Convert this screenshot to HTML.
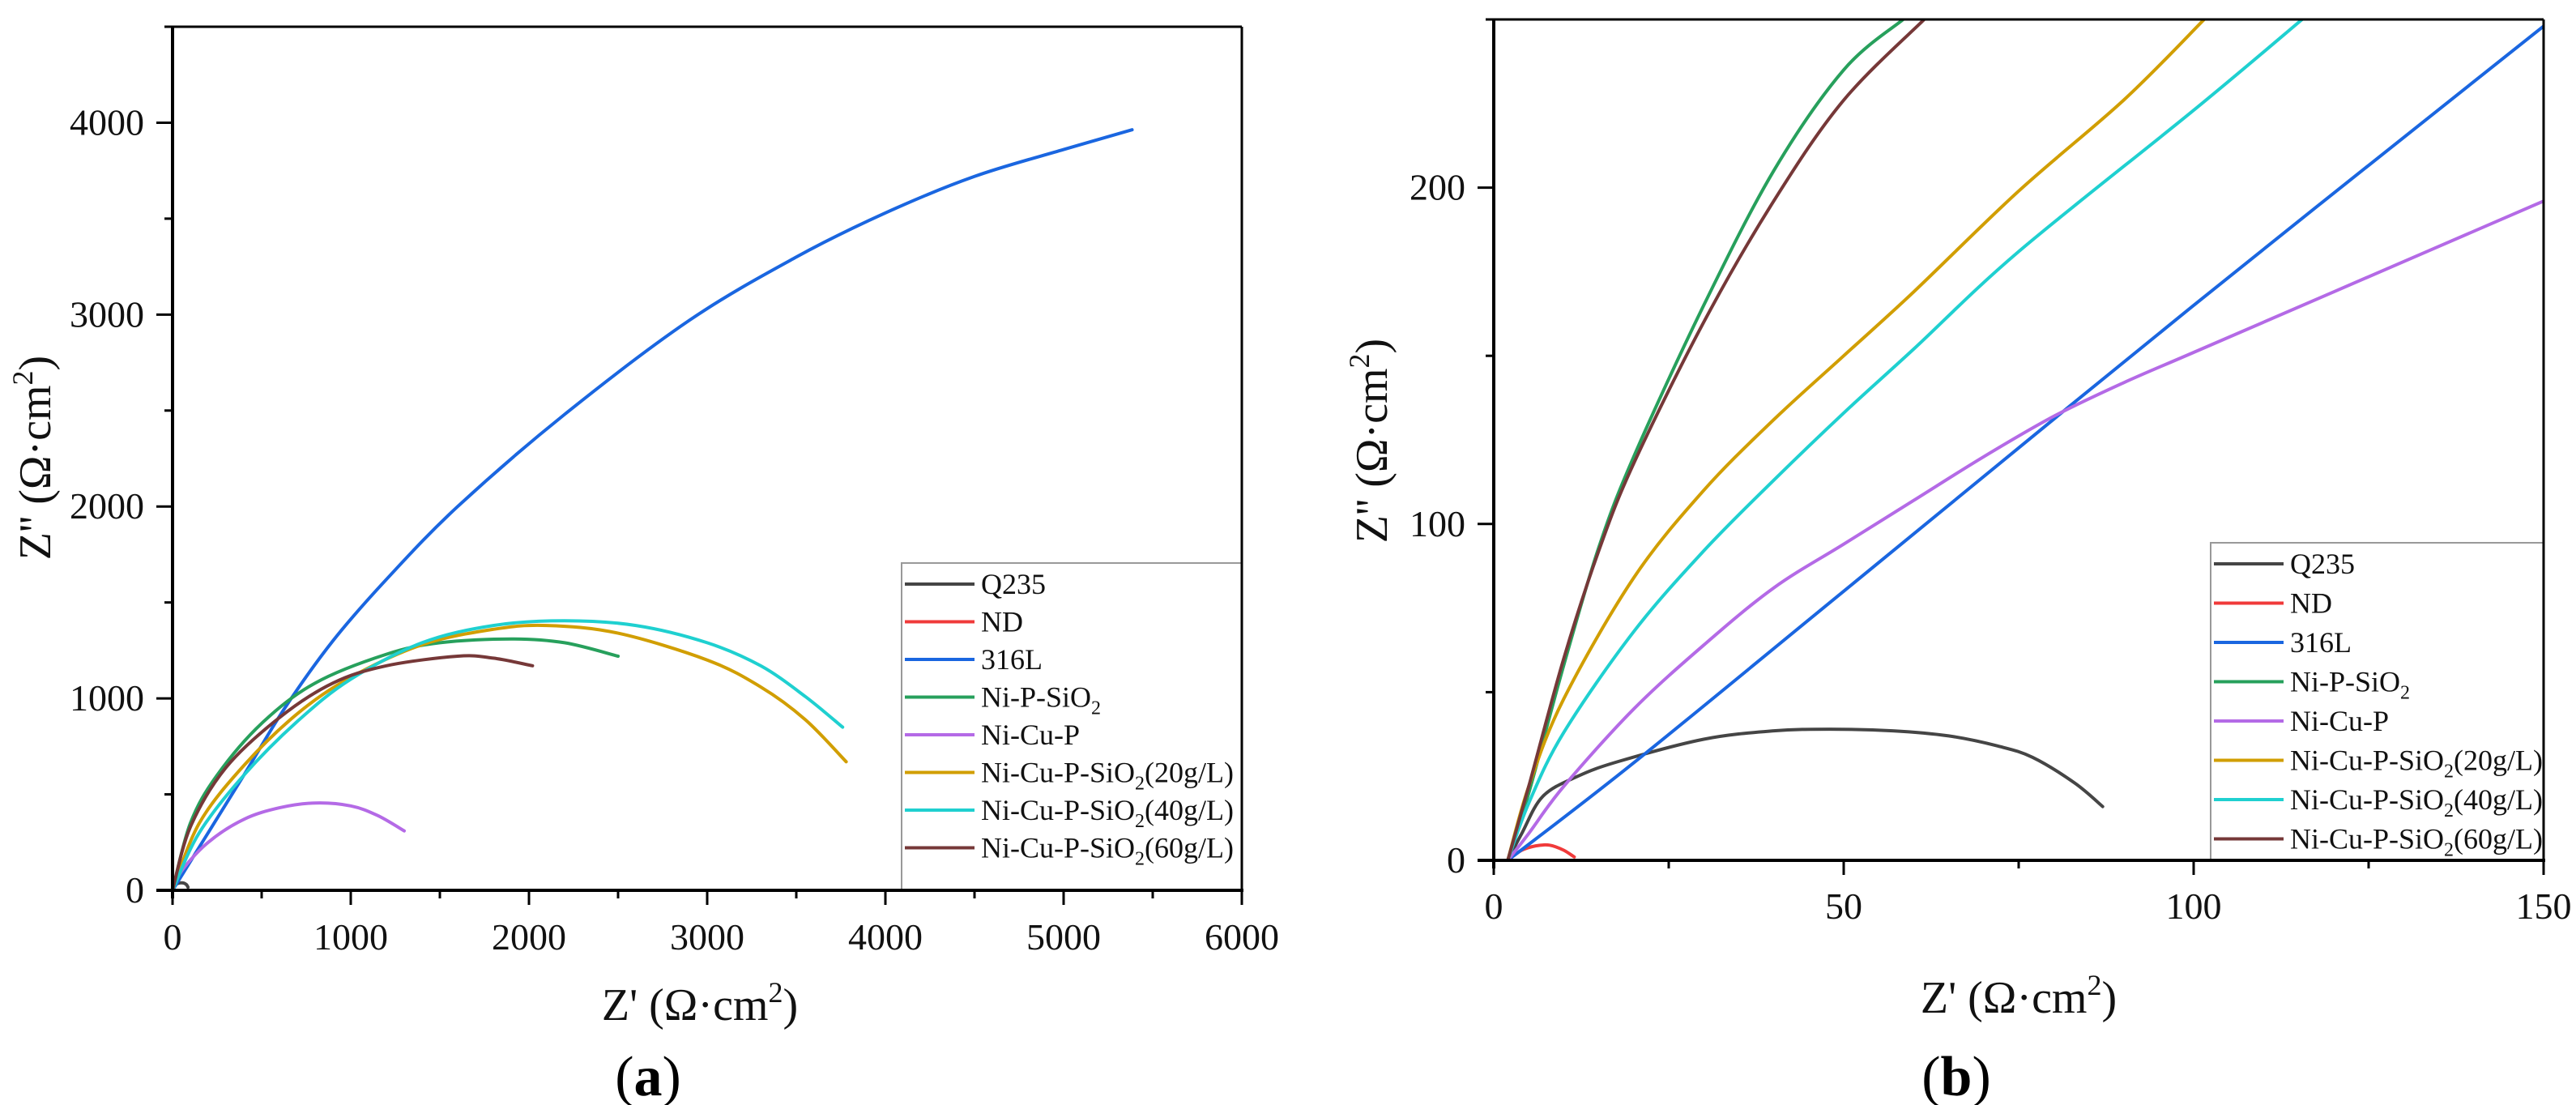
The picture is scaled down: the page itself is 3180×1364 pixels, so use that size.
<!DOCTYPE html>
<html><head><meta charset="utf-8"><style>
html,body{margin:0;padding:0;background:#fff;}
svg{display:block;font-family:"Liberation Serif",serif;}
</style></head><body>
<svg id="fig" width="3180" height="1364" viewBox="0 0 3180 1364" xmlns="http://www.w3.org/2000/svg">
<g id="pa"></g>
<g id="pb"></g>
</svg>
<script>
// ---------- data ----------
const seriesNames = ["Q235","ND","316L","Ni-P-SiO2","Ni-Cu-P","Ni-Cu-P-SiO2(20g/L)","Ni-Cu-P-SiO2(40g/L)","Ni-Cu-P-SiO2(60g/L)"];
const seriesColors = ["#454545","#f03a3a","#1a66e0","#27a05c","#b46ae6","#d19e00","#1fd0d0","#763838"];
// panel a (full range)
const aQ235 = [[2,0],[7,19],[18,29.5],[30,36],[48,39],[65,37],[77,30.6],[83,23],[87,16]];
const aND = [[2,0],[5,3.5],[8,4.5],[10,3],[11.5,1]];
const a316L = [[0,0],[200,300],[400,600],[630,950],[900,1300],[1200,1620],[1600,2000],[2200,2480],[2900,2970],[3500,3300],[4000,3530],[4500,3720],[5000,3860],[5384,3963]];
const aNiPSiO2 = [[0,0],[100,350],[250,600],[500,870],[800,1080],[1200,1230],[1500,1290],[1900,1310],[2200,1290],[2500,1220]];
const aNiCuP = [[0,0],[50,100],[200,250],[400,370],[600,430],[800,455],[1000,440],[1150,390],[1300,310]];
const a20 = [[0,0],[150,350],[400,650],[700,920],[1000,1110],[1400,1280],[1800,1360],[2100,1380],[2500,1340],[3000,1200],[3300,1060],[3550,890],[3780,670]];
const a40 = [[0,0],[150,300],[400,600],[700,880],[1000,1100],[1400,1290],[1800,1380],[2200,1405],[2600,1380],[3000,1290],[3300,1170],[3550,1010],[3760,850]];
const a60 = [[0,0],[100,330],[300,640],[600,900],[900,1080],[1200,1170],[1600,1220],[1800,1210],[2020,1170]];
// panel b (zoomed)
const bQ235 = [[2,0],[4,8],[7,19],[12,25],[18,29.5],[30,36],[40,38.5],[48,39],[57,38.5],[65,37],[72,34],[77,30.6],[83,23],[87,16]];
const bND = [[2,0],[4,3],[6,4.3],[8,4.5],[10,3],[11.5,1]];
const b316L = [[2,0],[20,29],[50,80],[100,165],[150,248]];
const bNiPSiO2 = [[2,0],[5,20],[10,58],[15,93],[20,120],[30,165],[40,205],[50,235],[58.5,250]];
const bNiCuP = [[2,0],[5,8],[10,22],[20,45],[30,64],[40,81],[50,94],[60,107],[70,120],[80,132],[90,142],[100,151],[120,169],[150,196]];
const b20 = [[2,0],[5,22],[10,48],[20,84],[30,110],[40,131],[50,150],[60,169],[75,199],[90,226],[101.5,250]];
const b40 = [[2,0],[5,17],[10,38],[20,68],[30,92],[40,113],[50,133],[60,152],[75,181],[100,223],[115.5,250]];
const b60 = [[2,0],[5,22],[10,60],[15,92],[20,118],[30,160],[40,196],[50,226],[61.5,250]];
const aXTicks = [0,1000,2000,3000,4000,5000,6000];
const aYTicks = [0,1000,2000,3000,4000];
const bXTicks = [0,50,100,150];
const bYTicks = [0,100,200];

const NS="http://www.w3.org/2000/svg";
function mk(tag,parent,attrs){const e=document.createElementNS(NS,tag);for(const k in attrs)e.setAttribute(k,attrs[k]);parent.appendChild(e);return e;}
function smooth(pts){
  let d='M'+pts[0][0].toFixed(1)+','+pts[0][1].toFixed(1);
  for(let i=0;i<pts.length-1;i++){
    const p0=pts[Math.max(0,i-1)],p1=pts[i],p2=pts[i+1],p3=pts[Math.min(pts.length-1,i+2)];
    const c1=[p1[0]+(p2[0]-p0[0])/6,p1[1]+(p2[1]-p0[1])/6];
    const c2=[p2[0]-(p3[0]-p1[0])/6,p2[1]-(p3[1]-p1[1])/6];
    d+=' C'+c1[0].toFixed(1)+','+c1[1].toFixed(1)+' '+c2[0].toFixed(1)+','+c2[1].toFixed(1)+' '+p2[0].toFixed(1)+','+p2[1].toFixed(1);
  }
  return d;
}

function panel(g,cfg){
  const sx=v=>cfg.x0+(v-cfg.xmin)/(cfg.xmax-cfg.xmin)*(cfg.x1-cfg.x0);
  const sy=v=>cfg.y0-(v-cfg.ymin)/(cfg.ymax-cfg.ymin)*(cfg.y0-cfg.y1);
  const cp=mk('clipPath',g,{id:cfg.id+'clip'});
  mk('rect',cp,{x:cfg.x0,y:cfg.y1,width:cfg.x1-cfg.x0,height:cfg.y0-cfg.y1});
  cfg.series.forEach((s,i)=>{
    const p=mk('path',g,{d:smooth(s.map(d=>[sx(d[0]),sy(d[1])])),fill:'none',stroke:seriesColors[i],'stroke-width':4,'stroke-linejoin':'round','stroke-linecap':'round','clip-path':'url(#'+cfg.id+'clip)'});
    
    
  });
  const lg=mk('g',g,{});
  
  
  mk('rect',lg,{x:cfg.lx,y:cfg.ly,width:cfg.x1-cfg.lx,height:cfg.y0-cfg.ly,fill:'#fff',stroke:'#999','stroke-width':2});
  seriesNames.forEach((n,i)=>{
    const yy=cfg.ly+cfg.lr0+i*cfg.ldy;
    const e=mk('g',lg,{});
    
    
    mk('line',e,{x1:cfg.lx+4,x2:cfg.lx+90,y1:yy,y2:yy,stroke:seriesColors[i],'stroke-width':4});
    const t=mk('text',e,{x:cfg.lx+98,y:yy+12,'font-size':36,fill:'#111'});
    const m=n.match(/^(.*SiO)2(.*)$/);
    if(m){t.appendChild(document.createTextNode(m[1]));const ts=mk('tspan',t,{'font-size':24,dy:9});ts.textContent='2';const t2=mk('tspan',t,{dy:-9});t2.textContent=m[2];}
    else t.textContent=n;
  });
  const fr=mk('g',g,{});
  
  
  mk('line',fr,{x1:cfg.x0-10,x2:cfg.x1,y1:cfg.y1,y2:cfg.y1,stroke:'#000','stroke-width':3});
  mk('line',fr,{x1:cfg.x1,x2:cfg.x1,y1:cfg.y1,y2:cfg.y0,stroke:'#000','stroke-width':3});
  mk('line',fr,{x1:cfg.x0,x2:cfg.x0,y1:cfg.y1,y2:cfg.y0+10,stroke:'#000','stroke-width':4});
  mk('line',fr,{x1:cfg.x0-20,x2:cfg.x1+2,y1:cfg.y0,y2:cfg.y0,stroke:'#000','stroke-width':4});
  const xt=mk('g',g,{});
  
  
  cfg.xt.forEach((v,i)=>{
    mk('line',xt,{x1:sx(v),x2:sx(v),y1:cfg.y0,y2:cfg.y0+18,stroke:'#000','stroke-width':3});
    if(i<cfg.xt.length-1){const m=(v+cfg.xt[i+1])/2;mk('line',xt,{x1:sx(m),x2:sx(m),y1:cfg.y0,y2:cfg.y0+10,stroke:'#000','stroke-width':3});}
    const t=mk('text',xt,{x:sx(v),y:cfg.xly,'font-size':46,'text-anchor':'middle',fill:'#111'});
    t.textContent=v;
  });
  const yt=mk('g',g,{});
  
  
  cfg.yt.forEach((v,i)=>{
    mk('line',yt,{x1:cfg.x0-20,x2:cfg.x0,y1:sy(v),y2:sy(v),stroke:'#000','stroke-width':3});
    const m=v+(cfg.yt[1]-cfg.yt[0])/2;
    if(m<cfg.ymax)mk('line',yt,{x1:cfg.x0-10,x2:cfg.x0,y1:sy(m),y2:sy(m),stroke:'#000','stroke-width':3});
    const t=mk('text',yt,{x:cfg.ylx,y:sy(v)+15,'font-size':46,'text-anchor':'end',fill:'#111'});
    t.textContent=v;
  });
  const xtl=mk('text',g,{x:cfg.xtx,y:cfg.xty,'font-size':56,'text-anchor':'middle',fill:'#111'});
  
  
  xtl.innerHTML="Z' (Ω·cm<tspan font-size='36' dy='-22'>2</tspan><tspan dy='22'>)</tspan>";
  const ytl=mk('text',g,{x:0,y:0,'font-size':56,'text-anchor':'middle',fill:'#111',transform:'translate('+cfg.ytx+','+cfg.yty+') rotate(-90)'});
  
  
  ytl.innerHTML="Z'' (Ω·cm<tspan font-size='36' dy='-22'>2</tspan><tspan dy='22'>)</tspan>";
  const pl=mk('text',g,{x:cfg.plx,y:1352,'font-size':70,'text-anchor':'middle',fill:'#000'});
  
  
  pl.innerHTML="(<tspan font-weight='bold'>"+cfg.label+"</tspan>)";
}

panel(document.getElementById('pa'),{id:'a',x0:213,x1:1533,y0:1099,y1:33,xmin:0,xmax:6000,ymin:0,ymax:4500,
  series:[aQ235,aND,a316L,aNiPSiO2,aNiCuP,a20,a40,a60],xt:aXTicks,yt:aYTicks,
  lx:1113,ly:695,lr0:26,ldy:46.5,xly:1172,ylx:178,xtx:864,xty:1259,ytx:62,yty:565,plx:800,label:'a'});
panel(document.getElementById('pb'),{id:'b',x0:1844,x1:3140,y0:1062,y1:24,xmin:0,xmax:150,ymin:0,ymax:250,
  series:[bQ235,bND,b316L,bNiPSiO2,bNiCuP,b20,b40,b60],xt:bXTicks,yt:bYTicks,
  lx:2729,ly:670,lr0:26,ldy:48.5,xly:1134,ylx:1809,xtx:2492,xty:1250,ytx:1712,yty:544,plx:2415,label:'b'});
</script>
</body></html>
